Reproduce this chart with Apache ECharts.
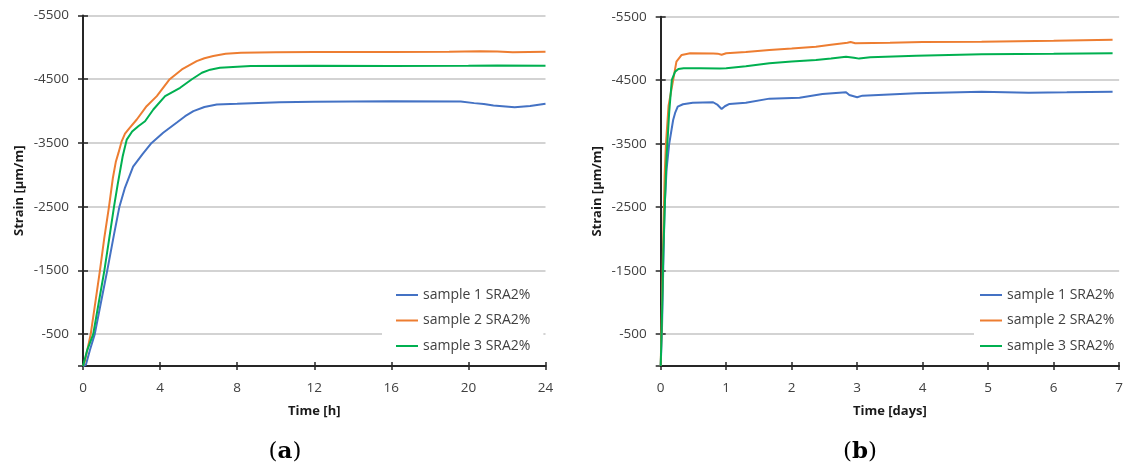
<!DOCTYPE html>
<html>
<head>
<meta charset="utf-8">
<script src="https://cdn.jsdelivr.net/npm/echarts@6/dist/echarts.min.js"></script>
<style>
html,body{margin:0;padding:0;background:#fff;}
#chart{width:1126px;height:465px;}
</style>
</head>
<body>
<div id="chart"></div>
<script>
// ---- Data ----
const seriesNames = ['sample 1 SRA2%', 'sample 2 SRA2%', 'sample 3 SRA2%'];
const seriesColors = ['#4472C4', '#ED7D31', '#00B050'];

// Panel (a): time [h], strain [µm/m]
const sample1A = [[0,0],[0.15,-20],[0.36,-250],[0.61,-500],[0.9,-950],[1.26,-1500],[1.6,-2050],[1.89,-2500],[2.18,-2800],[2.6,-3130],[3.1,-3330],[3.56,-3500],[4.16,-3660],[4.87,-3820],[5.3,-3920],[5.73,-4000],[6.3,-4065],[6.94,-4105],[8,-4115],[10.2,-4140],[12,-4145],[16,-4155],[19.6,-4150],[20.3,-4125],[20.8,-4110],[21.3,-4088],[22.4,-4060],[23.2,-4080],[24,-4115]];
const sample2A = [[0,0],[0.1,-80],[0.4,-500],[0.64,-1000],[0.88,-1500],[1.1,-2000],[1.35,-2500],[1.55,-2950],[1.7,-3200],[1.84,-3344],[2.0,-3520],[2.18,-3645],[2.4,-3730],[2.79,-3868],[3.3,-4077],[3.83,-4235],[4.5,-4500],[5.13,-4654],[5.9,-4785],[6.3,-4830],[6.76,-4863],[7.4,-4900],[8.2,-4916],[10,-4925],[12,-4928],[16,-4928],[19,-4930],[20.6,-4940],[21.5,-4935],[22.3,-4925],[24,-4930]];
const sample3A = [[0,0],[0.22,-250],[0.53,-500],[0.82,-1000],[1.11,-1500],[1.36,-2000],[1.61,-2500],[1.8,-2850],[2.06,-3291],[2.27,-3553],[2.55,-3680],[2.87,-3763],[3.22,-3841],[3.65,-4025],[4.26,-4235],[5.04,-4366],[5.65,-4500],[6.17,-4602],[6.6,-4650],[7.1,-4680],[8.7,-4706],[12,-4710],[16,-4708],[20,-4710],[21.5,-4715],[24,-4712]];

// Panel (b): time [days], strain [µm/m]
const sample1B = [[0,0],[0.02,-600],[0.04,-1600],[0.06,-2500],[0.09,-3100],[0.13,-3500],[0.19,-3874],[0.22,-3984],[0.26,-4083],[0.34,-4121],[0.49,-4146],[0.8,-4153],[0.87,-4110],[0.93,-4047],[0.98,-4090],[1.05,-4126],[1.3,-4145],[1.66,-4210],[2.12,-4225],[2.47,-4283],[2.83,-4310],[2.88,-4268],[3.0,-4231],[3.08,-4257],[3.9,-4294],[4.9,-4320],[5.62,-4304],[6.2,-4310],[6.9,-4320]];
const sample2B = [[0,0],[0.02,-1000],[0.04,-2100],[0.06,-3000],[0.08,-3500],[0.12,-4100],[0.19,-4504],[0.24,-4792],[0.32,-4898],[0.45,-4924],[0.8,-4920],[0.87,-4918],[0.93,-4900],[1.0,-4924],[1.3,-4945],[1.66,-4976],[2.0,-5000],[2.37,-5028],[2.6,-5060],[2.85,-5091],[2.9,-5102],[2.97,-5082],[3.5,-5090],[4.0,-5100],[4.9,-5107],[6.0,-5120],[6.9,-5138]];
const sample3B = [[0,0],[0.02,-800],[0.04,-1800],[0.065,-2614],[0.09,-3300],[0.13,-4000],[0.17,-4504],[0.22,-4635],[0.27,-4677],[0.35,-4688],[0.6,-4690],[0.9,-4685],[1.0,-4690],[1.3,-4720],[1.66,-4767],[2.0,-4795],[2.37,-4819],[2.6,-4840],[2.83,-4871],[2.95,-4855],[3.03,-4840],[3.2,-4860],[3.9,-4885],[4.9,-4909],[6.0,-4915],[6.9,-4924]];

const yMin = -5500, yMax = 0, yStep = 1000;
const xA = {min: 0, max: 24, step: 4, name: 'Time [h]'};
const xB = {min: 0, max: 7, step: 1, name: 'Time [days]'};
const yName = 'Strain [\u03bcm/m]';

// ---- Styles ----
const labelFont = {fontFamily: 'Open Sans', fontSize: 13.5, color: '#404040'};
const nameFont = {fontFamily: 'Open Sans', fontSize: 13, fontWeight: 'bold', color: '#1a1a1a'};
const axisLineStyle = {color: '#262626', width: 2};

function mainX(grid, cfg) {
  return {
    type: 'value', gridIndex: grid, position: 'bottom', min: cfg.min, max: cfg.max, interval: cfg.step,
    name: cfg.name, nameLocation: 'middle', nameGap: 39, nameTextStyle: nameFont,
    axisLine: {show: true, onZero: false, lineStyle: axisLineStyle},
    axisTick: {show: true, inside: false, length: 4, lineStyle: {color: '#262626', width: 1.5}},
    axisLabel: Object.assign({margin: 15}, labelFont),
    splitLine: {show: false}
  };
}
function innerX(grid, cfg) {
  return {
    type: 'value', gridIndex: grid, position: 'bottom', min: cfg.min, max: cfg.max, interval: cfg.step,
    axisLine: {show: false},
    axisTick: {show: true, inside: true, length: 4, lineStyle: {color: '#262626', width: 1.5}},
    axisLabel: {show: false}, splitLine: {show: false}
  };
}
function mainY(grid) {
  return {
    type: 'value', gridIndex: grid, position: 'left', inverse: true, min: yMin, max: yMax, interval: yStep,
    name: yName, nameLocation: 'middle', nameGap: 57, nameTextStyle: nameFont,
    axisLine: {show: true, onZero: false, lineStyle: axisLineStyle},
    axisTick: {show: true, inside: false, length: 5, lineStyle: {color: '#262626', width: 1.5}},
    axisLabel: Object.assign({margin: 14, formatter: v => (v === 0 ? '' : String(v))}, labelFont),
    splitLine: {show: true, lineStyle: {color: '#c4c4c4', width: 1.5}}
  };
}
function innerY(grid) {
  return {
    type: 'value', gridIndex: grid, position: 'left', inverse: true, min: yMin, max: yMax, interval: yStep,
    axisLine: {show: false},
    axisTick: {show: true, inside: true, length: 5, lineStyle: {color: '#262626', width: 1.5}},
    axisLabel: {show: false}, splitLine: {show: false}
  };
}

function lineSeries(name, data, color, xi, yi) {
  return {
    type: 'line', name: name, data: data, xAxisIndex: xi, yAxisIndex: yi,
    showSymbol: false, symbol: 'none', smooth: false,
    lineStyle: {color: color, width: 2}, itemStyle: {color: color}, z: 3
  };
}

const legendBase = {
  orient: 'vertical', data: seriesNames, icon: 'rect', itemWidth: 22, itemHeight: 2,
  itemGap: 9.5, backgroundColor: '#ffffff',
  textStyle: {fontFamily: 'Open Sans', fontSize: 14, color: '#404040', lineHeight: 16},
  selectedMode: false, z: 4
};

const captionRich = {
  p: {fontFamily: 'DejaVu Serif', fontSize: 23, color: '#000'},
  b: {fontFamily: 'DejaVu Serif', fontSize: 23, fontWeight: 'bold', color: '#000'}
};

const option = {
  animation: false,
  backgroundColor: '#ffffff',
  grid: [
    {left: 83, top: 15.5, width: 462.5, height: 350.5},
    {left: 660.7, top: 16.7, width: 460, height: 349.3}
  ],
  xAxis: [mainX(0, xA), innerX(0, xA), mainX(1, xB), innerX(1, xB)],
  yAxis: [mainY(0), innerY(0), mainY(1), innerY(1)],
  legend: [
    Object.assign({left: 382, top: 278, padding: [9, 13, 6, 14]}, legendBase),
    Object.assign({left: 974, top: 278, padding: [9, 12, 6, 6]}, legendBase)
  ],
  series: [
    lineSeries(seriesNames[0], sample1A, seriesColors[0], 0, 0),
    lineSeries(seriesNames[1], sample2A, seriesColors[1], 0, 0),
    lineSeries(seriesNames[2], sample3A, seriesColors[2], 0, 0),
    lineSeries(seriesNames[0], sample1B, seriesColors[0], 2, 2),
    lineSeries(seriesNames[1], sample2B, seriesColors[1], 2, 2),
    lineSeries(seriesNames[2], sample3B, seriesColors[2], 2, 2)
  ],
  graphic: [
    {type: 'text', x: 285, y: 452, style: {text: '{p|(}{b|a}{p|)}', align: 'center', verticalAlign: 'middle', rich: captionRich}},
    {type: 'text', x: 860, y: 452, style: {text: '{p|(}{b|b}{p|)}', align: 'center', verticalAlign: 'middle', rich: captionRich}}
  ]
};

const chart = echarts.init(document.getElementById('chart'), null, {renderer: 'canvas'});
chart.setOption(option);
</script>
</body>
</html>
